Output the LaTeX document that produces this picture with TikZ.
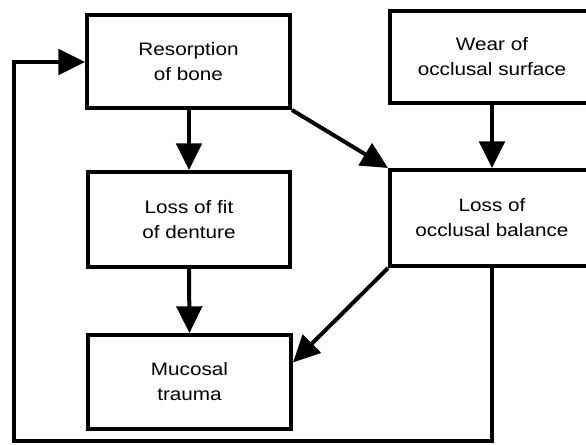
\documentclass[tikz,border=0pt]{standalone}
\usepackage{fontspec}
\setmainfont{Liberation Sans}[FakeStretch=1.15]
\usetikzlibrary{arrows.meta,calc}
\begin{document}
\begin{tikzpicture}[x=0.75pt,y=-0.75pt, line join=miter,
  box/.style={draw, line width=3pt, rectangle, align=center, inner sep=0pt,
    font=\fontsize{13.5}{18.75}\selectfont},
  arr/.style={-{Triangle[length=20pt,width=19pt]}, line width=3pt, line join=miter},
  link/.style={line width=3pt}]
\clip (0,0) rectangle (586,444);
\node[box, minimum width=152.25pt, minimum height=69.75pt] (res) at (188.5,61.5) {Resorption\\of bone};
\node[box, minimum width=153pt, minimum height=69pt] (wear) at (492,57) {Wear of\\occlusal surface};
\node[box, minimum width=151.5pt, minimum height=71.25pt] (fit) at (189,219.5) {Loss of fit\\of denture};
\node[box, minimum width=153pt, minimum height=72pt] (bal) at (492,218) {Loss of\\occlusal balance};
\node[box, minimum width=152.25pt, minimum height=70.5pt] (muc) at (189.5,382) {Mucosal\\trauma};
\coordinate (mhit) at ($(muc.north east)!0.3!(muc.south east)$);
\coordinate (c1) at (492,441);
\coordinate (c2) at (14,441);
\coordinate (c3) at (14,62);
\draw[arr] (res.south -| fit.north) -- (fit.north);
\draw[arr] (fit.south) -- (muc.north);
\draw[arr] (wear.south) -- (bal.north);
\draw[arr] (res.south east) -- (bal.north west);
\draw[arr] (bal.south west) -- (mhit);
\draw[arr] (bal.south) -- (c1) -- (c2) -- (c3) -- (c3 -| res.west);
\end{tikzpicture}
\end{document}
